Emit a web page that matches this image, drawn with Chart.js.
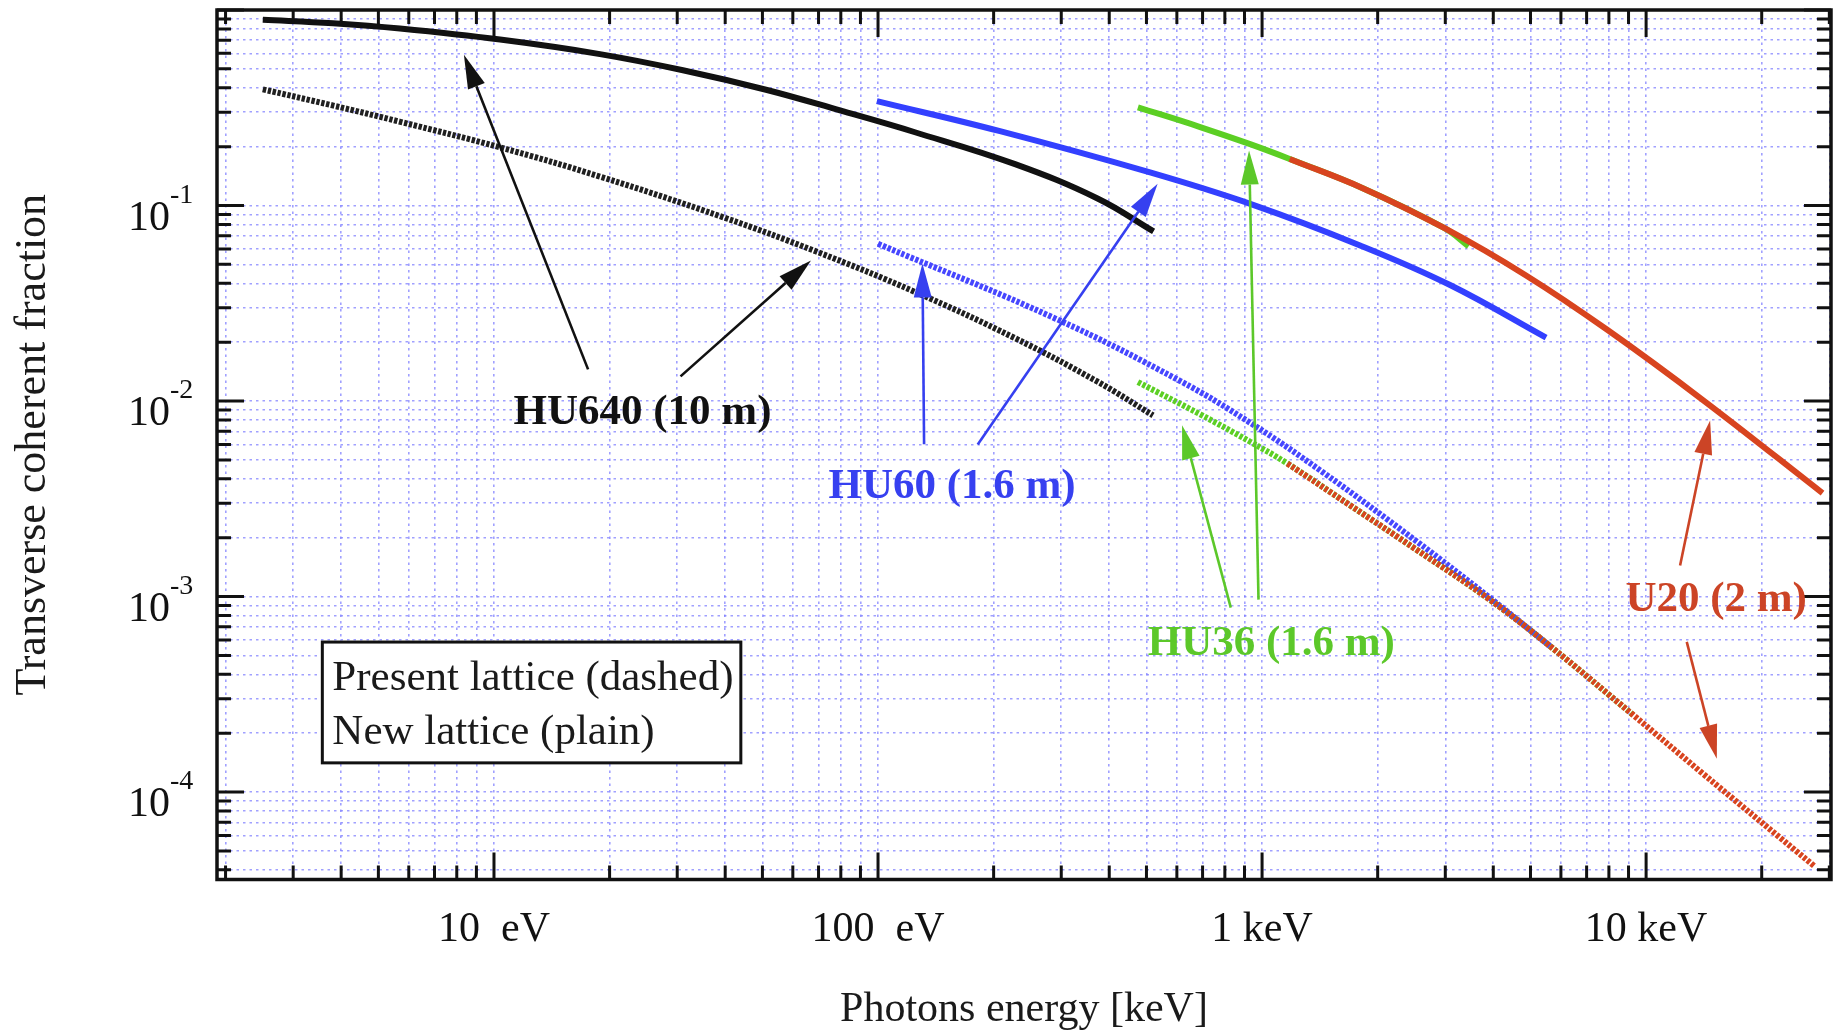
<!DOCTYPE html>
<html>
<head>
<meta charset="utf-8">
<title>Transverse coherent fraction</title>
<script src="https://cdn.jsdelivr.net/npm/chart.js@4/dist/chart.umd.min.js"></script>
<style>
  html, body { margin: 0; padding: 0; background: #fff; }
  canvas { display: block; }
</style>
</head>
<body>
<canvas id="chart" width="1838" height="1032"></canvas>
<script>
// Photon energy (keV) and transverse coherent fraction for each undulator.
// "New" = new lattice (plain lines), "Present" = present lattice (dashed lines).
const hu640NewE  = [0.0025, 0.00381, 0.00569, 0.01037, 0.01888, 0.03105, 0.0511, 0.0796, 0.1248, 0.2274, 0.3729, 0.5218];
const hu640NewF  = [0.892, 0.856, 0.804, 0.706, 0.595, 0.492, 0.391, 0.3065, 0.237, 0.1627, 0.1086, 0.0737];
const hu640PresE = [0.0025, 0.0038, 0.0057, 0.0104, 0.0189, 0.0397, 0.0688, 0.125, 0.227, 0.373, 0.52];
const hu640PresF = [0.393, 0.325, 0.268, 0.198, 0.1405, 0.0868, 0.0583, 0.0361, 0.0210, 0.01255, 0.00845];

const hu60NewE  = [0.0993, 0.2078, 0.5109, 0.9475, 1.80, 3.087, 5.49];
const hu60NewF  = [0.342, 0.240, 0.1476, 0.1008, 0.0625, 0.0392, 0.0211];
const hu60PresE = [0.1, 0.291, 0.611, 0.931, 1.433, 2.53, 3.93, 5.62];
const hu60PresF = [0.0637, 0.0263, 0.01268, 0.00774, 0.00435, 0.00191, 0.000981, 0.000558];

const hu36NewE  = [0.475, 0.69, 0.931, 1.18, 1.829, 2.979, 3.45];
const hu36NewF  = [0.318, 0.252, 0.206, 0.173, 0.1227, 0.0768, 0.0619];
const hu36PresE = [0.475, 0.69, 0.931, 1.164, 1.694, 2.53, 3.93, 5.62, 9.25];
const hu36PresF = [0.0125, 0.00855, 0.00619, 0.00479, 0.00293, 0.00173, 0.000959, 0.000558, 0.000248];

const u20NewE  = [1.18, 1.829, 2.979, 4.857, 7.905, 14.2, 28.8];
const u20NewF  = [0.173, 0.1227, 0.0768, 0.0440, 0.0232, 0.00997, 0.00338];
const u20PresE = [1.164, 1.694, 2.53, 3.93, 5.62, 9.25, 13.8, 27.5];
const u20PresF = [0.00479, 0.00293, 0.00173, 0.000959, 0.000558, 0.000248, 0.000128, 0.0000416];

// Axis ranges and labelled decades
const energyRange = [0.0019, 30.3];
const fractionRange = [0.0000357, 1];
const energyTickLabels = [[0.01, '10  eV'], [0.1, '100  eV'], [1, '1 keV'], [10, '10 keV']];
const fractionTickExponents = [-1, -2, -3, -4];

// Callouts: label anchors and arrows, in (energy, fraction) space
const callouts = [
  { text: 'HU640 (10 m)', at: [0.02436, 0.00865], color: '#111111',
    arrows: [[[0.01758, 0.01452], [0.00835, 0.591]], [[0.0306, 0.01337], [0.0669, 0.0524]]] },
  { text: 'HU60 (1.6 m)', at: [0.1559, 0.003644], color: '#3640f0',
    arrows: [[[0.1318, 0.00601], [0.1305, 0.0505]], [[0.1818, 0.00599], [0.5347, 0.1291]]] },
  { text: 'HU36 (1.6 m)', at: [1.057, 0.000571], color: '#5cc82a',
    arrows: [[[0.829, 0.000877], [0.619, 0.00751]], [[0.979, 0.000964], [0.925, 0.191]]] },
  { text: 'U20 (2 m)', at: [15.22, 0.000964], color: '#cc4426',
    arrows: [[[12.26, 0.001442], [14.68, 0.00795]], [[12.76, 0.000586], [15.28, 0.000148]]] }
];
const legendLines = ['Present lattice (dashed)', 'New lattice (plain)'];
const legendCorners = [[0.003573, 0.000585], [0.04393, 0.000141]];

const SERIF = '"Liberation Serif", "Times New Roman", serif';
const BLACK = '#111111', BLUE = '#3340ff', GREEN = '#5ccf24', RED = '#d8441f';

function pts(es, fs) { return es.map((e, i) => ({ x: e, y: fs[i] })); }
function series(label, es, fs, color, dashed, order) {
  return {
    label, data: pts(es, fs), borderColor: color, order,
    borderWidth: 6,
    borderDash: dashed ? [3.4, 1.6] : [],
    pointRadius: 0, fill: false,
    tension: 0.4
  };
}

// every 1..9 x 10^n value inside a range, used for grid lines and tick marks
function logSteps(lo, hi) {
  const out = [];
  for (let e = Math.floor(Math.log10(lo)); e <= Math.ceil(Math.log10(hi)); e++) {
    for (let m = 1; m <= 9; m++) {
      const v = +(m * Math.pow(10, e)).toPrecision(6);
      if (v >= lo * 0.9999 && v <= hi * 1.0001) out.push(v);
    }
  }
  return out;
}
const isDecade = v => Math.abs(Math.log10(v) - Math.round(Math.log10(v))) < 1e-6;

function drawArrow(ctx, x1, y1, x2, y2, color) {
  const ang = Math.atan2(y2 - y1, x2 - x1);
  const headLen = 34, headW = 9;
  const bx = x2 - headLen * Math.cos(ang), by = y2 - headLen * Math.sin(ang);
  ctx.strokeStyle = color; ctx.lineWidth = 2.6; ctx.setLineDash([]);
  ctx.beginPath(); ctx.moveTo(x1, y1); ctx.lineTo(bx, by); ctx.stroke();
  ctx.fillStyle = color;
  ctx.beginPath();
  ctx.moveTo(x2, y2);
  ctx.lineTo(bx + headW * Math.sin(ang), by - headW * Math.cos(ang));
  ctx.lineTo(bx - headW * Math.sin(ang), by + headW * Math.cos(ang));
  ctx.closePath(); ctx.fill();
}

const frameAndNotes = {
  id: 'frameAndNotes',
  afterDatasetsDraw(chart) {
    const { ctx, chartArea: a, scales: { x, y } } = chart;
    ctx.save();

    // inward tick marks on all four sides
    ctx.strokeStyle = BLACK; ctx.lineWidth = 3; ctx.setLineDash([]);
    ctx.beginPath();
    x.ticks.forEach(t => {
      const px = x.getPixelForValue(t.value);
      const len = isDecade(t.value) ? 27 : 14;
      ctx.moveTo(px, a.bottom); ctx.lineTo(px, a.bottom - len);
      ctx.moveTo(px, a.top); ctx.lineTo(px, a.top + len);
    });
    y.ticks.forEach(t => {
      const py = y.getPixelForValue(t.value);
      const len = isDecade(t.value) ? 27 : 14;
      ctx.moveTo(a.left, py); ctx.lineTo(a.left + len, py);
      ctx.moveTo(a.right, py); ctx.lineTo(a.right - len, py);
    });
    ctx.stroke();

    // plot frame
    ctx.lineWidth = 3.5;
    ctx.strokeRect(a.left, a.top, a.right - a.left, a.bottom - a.top);

    // y tick labels as 10 with a raised exponent
    ctx.fillStyle = BLACK;
    fractionTickExponents.forEach(n => {
      const py = y.getPixelForValue(Math.pow(10, n));
      ctx.font = '42px ' + SERIF; ctx.textAlign = 'right'; ctx.textBaseline = 'alphabetic';
      ctx.fillText('10', 170, py + 24);
      ctx.font = '28px ' + SERIF; ctx.textAlign = 'left';
      ctx.fillText(String(n), 170, py - 3);
    });

    // axis titles
    ctx.font = '42px ' + SERIF; ctx.textAlign = 'center'; ctx.textBaseline = 'alphabetic';
    ctx.fillStyle = '#1a1a1a';
    ctx.fillText('Photons energy [keV]', (a.left + a.right) / 2, 1021);
    ctx.save();
    ctx.translate(33, (a.top + a.bottom) / 2);
    ctx.rotate(-Math.PI / 2);
    ctx.font = '44px ' + SERIF; ctx.textBaseline = 'middle';
    ctx.fillText('Transverse coherent fraction', 0, 0);
    ctx.restore();

    // callout arrows and labels
    callouts.forEach(c => {
      c.arrows.forEach(([p, q]) => drawArrow(ctx,
        x.getPixelForValue(p[0]), y.getPixelForValue(p[1]),
        x.getPixelForValue(q[0]), y.getPixelForValue(q[1]), c.color));
      ctx.font = 'bold 43px ' + SERIF; ctx.fillStyle = c.color;
      ctx.textAlign = 'center'; ctx.textBaseline = 'middle';
      ctx.fillText(c.text, x.getPixelForValue(c.at[0]), y.getPixelForValue(c.at[1]));
    });

    // boxed note about line styles
    const bx0 = x.getPixelForValue(legendCorners[0][0]), by0 = y.getPixelForValue(legendCorners[0][1]);
    const bx1 = x.getPixelForValue(legendCorners[1][0]), by1 = y.getPixelForValue(legendCorners[1][1]);
    ctx.fillStyle = '#ffffff';
    ctx.fillRect(bx0, by0, bx1 - bx0, by1 - by0);
    ctx.strokeStyle = BLACK; ctx.lineWidth = 3;
    ctx.strokeRect(bx0, by0, bx1 - bx0, by1 - by0);
    ctx.fillStyle = '#1a1a1a'; ctx.font = '43px ' + SERIF;
    ctx.textAlign = 'left'; ctx.textBaseline = 'alphabetic';
    ctx.fillText(legendLines[0], bx0 + 10, by0 + 48);
    ctx.fillText(legendLines[1], bx0 + 10, by0 + 101.5);

    ctx.restore();
  }
};

const gridColor = 'rgba(120,120,255,0.7)';
const gridDash = [2.5, 4];

new Chart(document.getElementById('chart'), {
  type: 'line',
  data: {
    datasets: [
      series('U20 new', u20NewE, u20NewF, RED, false, 1),
      series('HU36 new', hu36NewE, hu36NewF, GREEN, false, 2),
      series('HU60 new', hu60NewE, hu60NewF, BLUE, false, 3),
      series('HU640 new', hu640NewE, hu640NewF, BLACK, false, 4),
      series('U20 present', u20PresE, u20PresF, RED, true, 5),
      series('HU36 present', hu36PresE, hu36PresF, GREEN, true, 6),
      series('HU60 present', hu60PresE, hu60PresF, '#4646ff', true, 7),
      series('HU640 present', hu640PresE, hu640PresF, '#202020', true, 8)
    ]
  },
  options: {
    responsive: false,
    animation: false,
    devicePixelRatio: 1,
    layout: { padding: { top: 10, right: 7, left: 0, bottom: 0 } },
    plugins: { legend: { display: false }, tooltip: { enabled: false } },
    scales: {
      x: {
        type: 'logarithmic', position: 'bottom',
        min: energyRange[0], max: energyRange[1],
        // transparent outer tick marks only push the labels below the frame
        grid: { color: gridColor, lineWidth: 1.6, drawTicks: true, tickLength: 25, tickColor: 'rgba(0,0,0,0)' },
        border: { display: false, dash: gridDash },
        afterBuildTicks: s => { s.ticks = logSteps(energyRange[0], energyRange[1]).map(v => ({ value: v })); },
        afterFit: s => { s.height = 152.5; },
        ticks: {
          autoSkip: false, maxRotation: 0, minRotation: 0, padding: 0,
          color: BLACK, font: { family: SERIF, size: 42 },
          callback: v => {
            const hit = energyTickLabels.find(([e]) => Math.abs(Math.log10(e) - Math.log10(v)) < 1e-6);
            return hit ? hit[1] : '';
          }
        }
      },
      y: {
        type: 'logarithmic', position: 'left',
        min: fractionRange[0], max: fractionRange[1],
        grid: { color: gridColor, lineWidth: 1.6, drawTicks: false },
        border: { display: false, dash: gridDash },
        afterBuildTicks: s => { s.ticks = logSteps(fractionRange[0], fractionRange[1]).map(v => ({ value: v })); },
        afterFit: s => { s.width = 217; },
        ticks: { display: false }
      }
    }
  },
  plugins: [frameAndNotes]
});
</script>
</body>
</html>
